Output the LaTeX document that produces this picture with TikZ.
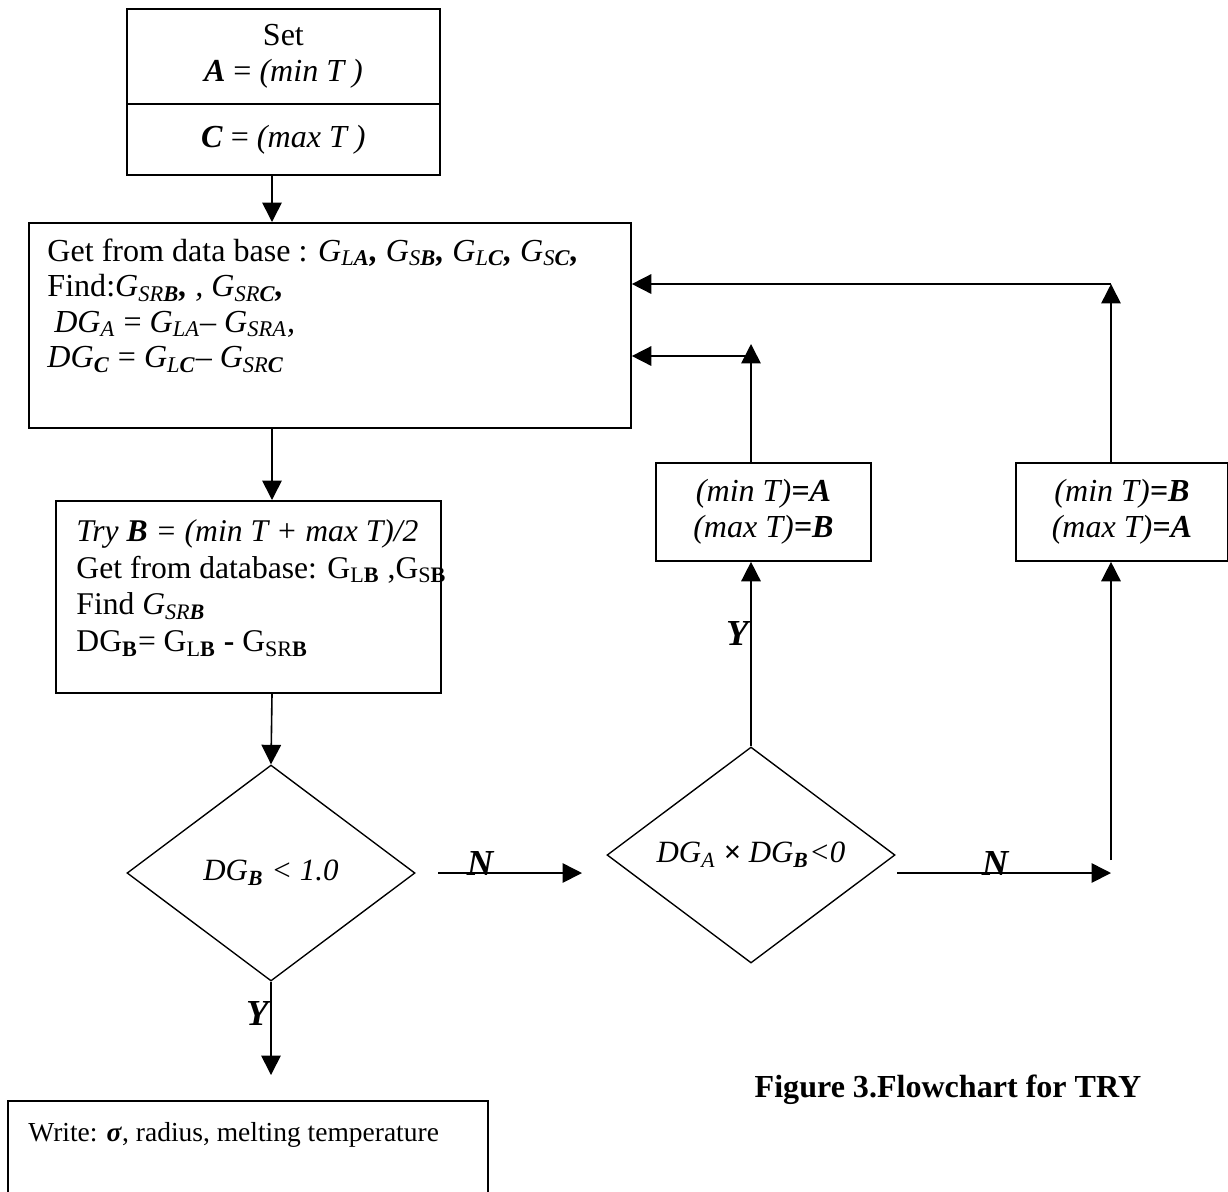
\documentclass[tikz,border=0pt]{standalone}
\usepackage{fontspec}
\setmainfont{Liberation Serif}
\usetikzlibrary{arrows.meta,shapes.geometric}
\newcommand{\px}{0.4366pt}
\newcommand{\bi}[1]{\textbf{\textit{#1}}}

\begin{document}
\begin{tikzpicture}[x=\px, y=-\px,
    every node/.style={font=\fontsize{14}{15.5}\selectfont},
    box/.style 2 args={draw, line width=0.8pt, anchor=north west,
        minimum width=#1*\px, minimum height=#2*\px, inner sep=0pt, align=center},
    txt/.style={anchor=north west, inner sep=0pt, align=left},
    decision/.style={draw, diamond, line width=0.6pt, font=\fontsize{13.5}{15}\selectfont,
        minimum width=288*\px, minimum height=216*\px, inner sep=0pt},
    arr/.style={line width=0.7pt, -{Triangle[length=8.5pt,width=8.5pt]}},
    yn/.style={font=\fontsize{16}{18}\selectfont\bfseries\itshape, inner sep=0pt}]
    \clip (0,0) rectangle (1228,1191);
    % columns of the connectors
    \coordinate (c1) at (272,0);
    \coordinate (c2) at (751,0);
    \coordinate (c3) at (1111,0);

    % boxes
    \node[box={313}{95}] (setA) at (126,8) {Set\\\bi{A} = \textit{(min T )}};
    \node[box={313}{71}] (setC) at (126,103) {\bi{C} = \textit{(max T )}};
    \node[box={602}{205}] (getbox) at (28,222) {};
    \node[txt] (gettxt) at (47,238) {Get from data base : \textit{G\textsubscript{L\textbf{A}}\textbf{,} G\textsubscript{S\textbf{B}}\textbf{,} G\textsubscript{L\textbf{C}}\textbf{,} G\textsubscript{S\textbf{C}}\textbf{,}}\\
        Find:\textit{G\textsubscript{SR\textbf{B}}\textbf{,} , G\textsubscript{SR\textbf{C}}\textbf{,}}\\
        \hspace*{3pt}\textit{DG\textsubscript{A}} = \textit{G\textsubscript{LA}}-- \textit{G\textsubscript{SRA},}\\
        \textit{DG\textsubscript{\textbf{C}}} = \textit{G\textsubscript{L\textbf{C}}}-- \textit{G\textsubscript{SR\textbf{C}}}};
    \node[box={385}{192}] (trybox) at (55,500) {};
    \node[txt, font=\fontsize{13.8}{16}\selectfont] (trytxt) at (76,519) {\textit{Try \textbf{B} = (min T + max T)/2}\\
        Get from database: G\textsubscript{L\textbf{B}} ,G\textsubscript{S\textbf{B}}\\
        Find \textit{G\textsubscript{SR\textbf{B}}}\\
        DG\textsubscript{\textbf{B}}= G\textsubscript{L\textbf{B}} \textbf{-} G\textsubscript{SR\textbf{B}}};
    \node[decision] (dec1) at (271,873) {\textit{DG\textsubscript{\textbf{B}} < 1.0}};
    \node[decision] (dec2) at (751,855) {\textit{DG\textsubscript{A} \textbf{×} DG\textsubscript{\textbf{B}}<0}};
    \node[box={215}{98}] (boxA) at (655,462) {\textit{(min T)\textbf{=A}}\\\textit{(max T)\textbf{=B}}};
    \node[box={212}{98}] (boxB) at (1015,462) {\textit{(min T)\textbf{=B}}\\\textit{(max T)\textbf{=A}}};
    \node[box={480}{130}] (outbox) at (7,1100) {};
    \node[txt, font=\fontsize{12}{14}\selectfont] (outtxt) at (28,1122) {Write: \bi{σ}, radius, melting temperature};
    \node[font=\fontsize{14}{16}\selectfont\bfseries] (cap) at (948,1090) {Figure 3.Flowchart for TRY};

    % free ends
    \coordinate (n1a) at (438,873);
    \coordinate (n1b) at (582,873);
    \coordinate (n2a) at (897,873);
    \coordinate (n2b) at (1111,873);
    \coordinate (rb) at (1111,860);
    \coordinate (rt) at (1111,284);
    \coordinate (lt) at (751,344);
    \coordinate (lh) at (751,356);
    \coordinate (yend) at (271,1075);

    % connectors
    \draw[arr] (setC.south -| c1) -- (getbox.north -| c1);
    \draw[arr] (getbox.south -| c1) -- (trybox.north -| c1);
    \draw[arr] (trybox.south -| c1) -- (dec1.north);
    \draw[arr] (dec1.south) -- (yend);
    \draw[arr] (n1a) -- (n1b);
    \draw[arr] (n2a) -- (n2b);
    \draw[arr] (dec2.north) -- (boxA.south -| c2);
    \draw[arr] (boxA.north -| c2) -- (lt);
    \draw[arr] (lh) -- (lh -| getbox.east);
    \draw[arr] (rb) -- (boxB.south -| c3);
    \draw[arr] (boxB.north -| c3) -- (rt);
    \draw[arr] (rt) -- (rt -| getbox.east);

    % labels
    \node[yn, anchor=south] (nlab1) at (480,876) {N};
    \node[yn, anchor=south] (nlab2) at (995,876) {N};
    \node[yn, anchor=east] (ylab1) at (269,1013) {Y};
    \node[yn, anchor=east] (ylab2) at (749,633) {Y};
\end{tikzpicture}
\end{document}
